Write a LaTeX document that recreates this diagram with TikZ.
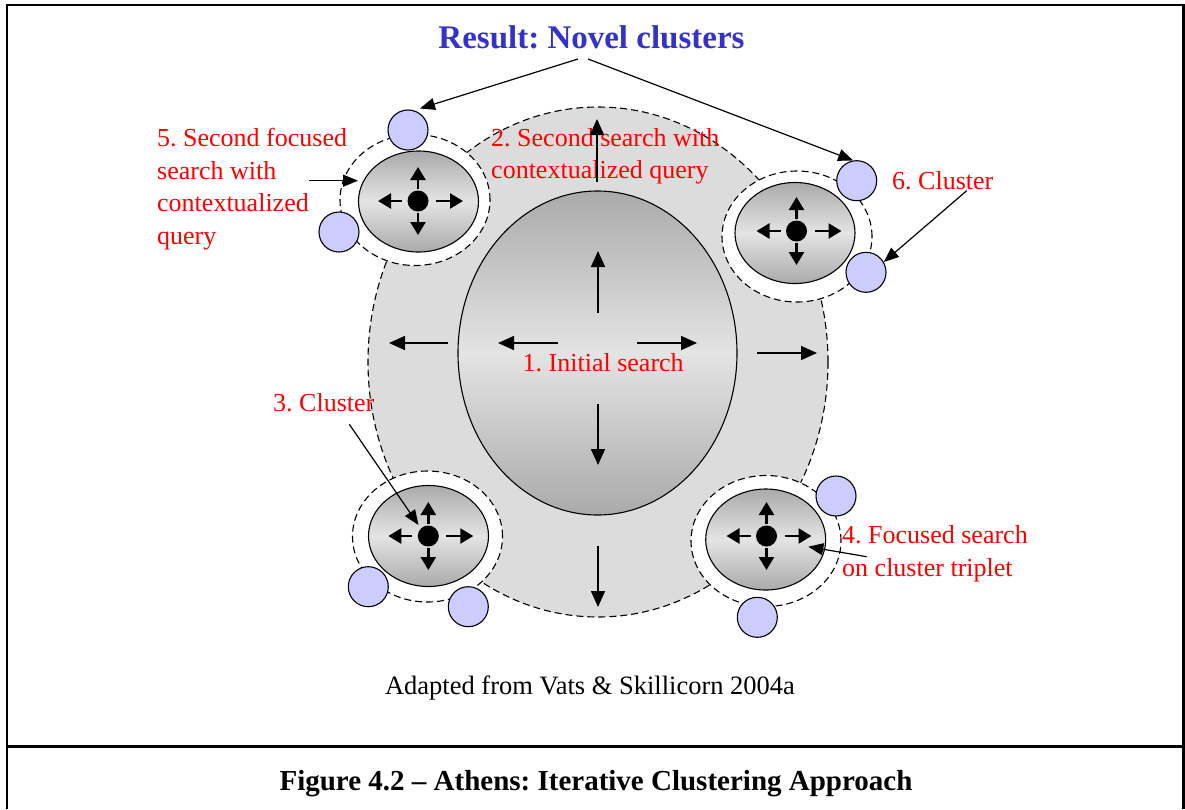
\documentclass[tikz,border=0pt]{standalone}
\usepackage{fontspec}
\setmainfont{Liberation Serif}
\usetikzlibrary{arrows.meta,shapes.geometric}
\definecolor{bigfill}{HTML}{DCDCDC}
\definecolor{gdark}{HTML}{AAAAAA}
\definecolor{glight}{HTML}{E4E4E4}
\definecolor{dotblue}{HTML}{CCCCFF}
\definecolor{titleblue}{HTML}{3333CC}
\frenchspacing
\begin{document}
\begin{tikzpicture}[x=1pt,y=-1pt,
  gradell/.style={ellipse, draw, line width=1.1pt, inner sep=0pt, top color=gdark, bottom color=gdark, middle color=glight},
  ringell/.style={ellipse, draw, fill=white, dash pattern=on 7pt off 4pt, line width=1.1pt, inner sep=0pt, minimum width=150pt, minimum height=131pt},
  blob/.style={circle, draw, fill=dotblue, line width=1.1pt, minimum size=40pt, inner sep=0pt},
  dotnode/.style={circle, fill=black, minimum size=21pt, inner sep=0pt},
  bigarrow/.style={line width=1.6pt, -{Triangle[length=16pt,width=14pt]}},
  smallarrow/.style={line width=2.4pt, -{Triangle[length=13pt,width=15pt]}},
  callout/.style={line width=1.2pt, -{Triangle[length=15pt,width=12pt]}},
  redlabel/.style={text=red, font=\fontsize{26}{30}\selectfont, inner sep=0pt, anchor=base west},
]
\useasboundingbox (0,0) rectangle (1185,809);
% frame
\draw[line width=2.2pt] (7,809) -- (7,5) -- (1183.5,5) -- (1183.5,809);
\draw[line width=2.2pt] (7,746.5) -- (1183.5,746.5);

% outer search region
\node[ellipse, draw, fill=bigfill, dash pattern=on 7pt off 4pt, line width=1.1pt, inner sep=0pt,
      minimum width=460pt, minimum height=510pt] (outer) at (598,362) {};

% clusters
\foreach \n/\rx/\ry/\ex/\ey/\dx/\dy in {tl/415/200/418.5/201.5/418/201, tr/797/236.5/795/233/796.5/231, bl/427.5/536.5/428.5/536/428.3/536, br/766/541/765.7/539.5/766.5/536}{
  \node[ringell] (ring\n) at (\rx,\ry) {};
  \node[gradell, minimum width=120pt, minimum height=101pt] (ell\n) at (\ex,\ey) {};
  \node[dotnode] (dot\n) at (\dx,\dy) {};
  \draw[smallarrow] (\dx,{\dy-12}) -- (\dx,{\dy-34});
  \draw[smallarrow] (\dx,{\dy+12}) -- (\dx,{\dy+34});
  \draw[smallarrow] ({\dx-16},\dy) -- ({\dx-40},\dy);
  \draw[smallarrow] ({\dx+18},\dy) -- ({\dx+45},\dy);
}

% central initial search
\node[gradell, minimum width=279pt, minimum height=324pt] (inner) at (597.5,353) {};

% labels
\node[redlabel] (l1) at (522.5,371) {1. Initial search};
\node[redlabel] (l2a) at (491,146.7) {2. Second search with};
\node[redlabel] (l2b) at (491,178.3) {contextualized query};
\node[redlabel] (l3) at (273,411.7) {3. Cluster};
\node[redlabel] (l4a) at (842,543) {4. Focused search};
\node[redlabel] (l4b) at (842,576) {on cluster triplet};
\node[redlabel] (l5a) at (157,146.5) {5. Second focused};
\node[redlabel] (l5b) at (157,179) {search with};
\node[redlabel] (l5c) at (157,211.5) {contextualized};
\node[redlabel] (l5d) at (157,244) {query};
\node[redlabel] (l6) at (892,189) {6. Cluster};

% search arrows
\draw[bigarrow] (598,313) -- (598,251);
\draw[bigarrow] (558,343) -- (498,343);
\draw[bigarrow] (637,343) -- (697,343);
\draw[bigarrow] (598,404) -- (598,465);
\draw[bigarrow] (597,182) -- (597,119);
\draw[bigarrow] (448,343) -- (389,343);
\draw[bigarrow] (757,353) -- (817,353);
\draw[bigarrow] (598,546) -- (598,607);

% novel cluster points
\node[blob] (btl1) at (408,130) {};
\node[blob] (btl2) at (339,232) {};
\node[blob] (btr1) at (856.7,180.7) {};
\node[blob] (btr2) at (866,272.3) {};
\node[blob] (bbl1) at (368.3,586.7) {};
\node[blob] (bbl2) at (468.3,606.7) {};
\node[blob] (bbr1) at (836,496) {};
\node[blob] (bbr2) at (757.3,617.3) {};

% title and captions
\node[text=titleblue, font=\bfseries\fontsize{33}{38}\selectfont, anchor=base, inner sep=0pt] (title) at (591.5,48) {Result: Novel clusters};
\node[font=\fontsize{26.5}{30}\selectfont, anchor=base, inner sep=0pt] (src) at (590,694) {Adapted from Vats \& Skillicorn 2004a};
\node[font=\bfseries\fontsize{29}{34}\selectfont, anchor=base, inner sep=0pt] (cap) at (596,790) {Figure 4.2 – Athens: Iterative Clustering Approach};

% callout connectors
\coordinate (tA) at (578,59);
\coordinate (tB) at (588,59);
\coordinate (tAend) at (420,108.5);
\draw[callout] (tA) -- (tAend);
\draw[callout] (tB) -- (btr1.100);
\coordinate (c6) at (966.7,190.7);
\draw[callout] (c6) -- (btr2.30);
\coordinate (c3) at (349.3,424.3);
\coordinate (c3end) at (418.5,525);
\draw[callout] (c3) -- (c3end);
\coordinate (c4) at (866.7,556.7);
\coordinate (c4end) at (808.3,546.7);
\draw[callout] (c4) -- (c4end);
\coordinate (c5) at (309,180.7);
\coordinate (c5end) at (358,180.7);
\draw[callout] (c5) -- (c5end);
\end{tikzpicture}
\end{document}
